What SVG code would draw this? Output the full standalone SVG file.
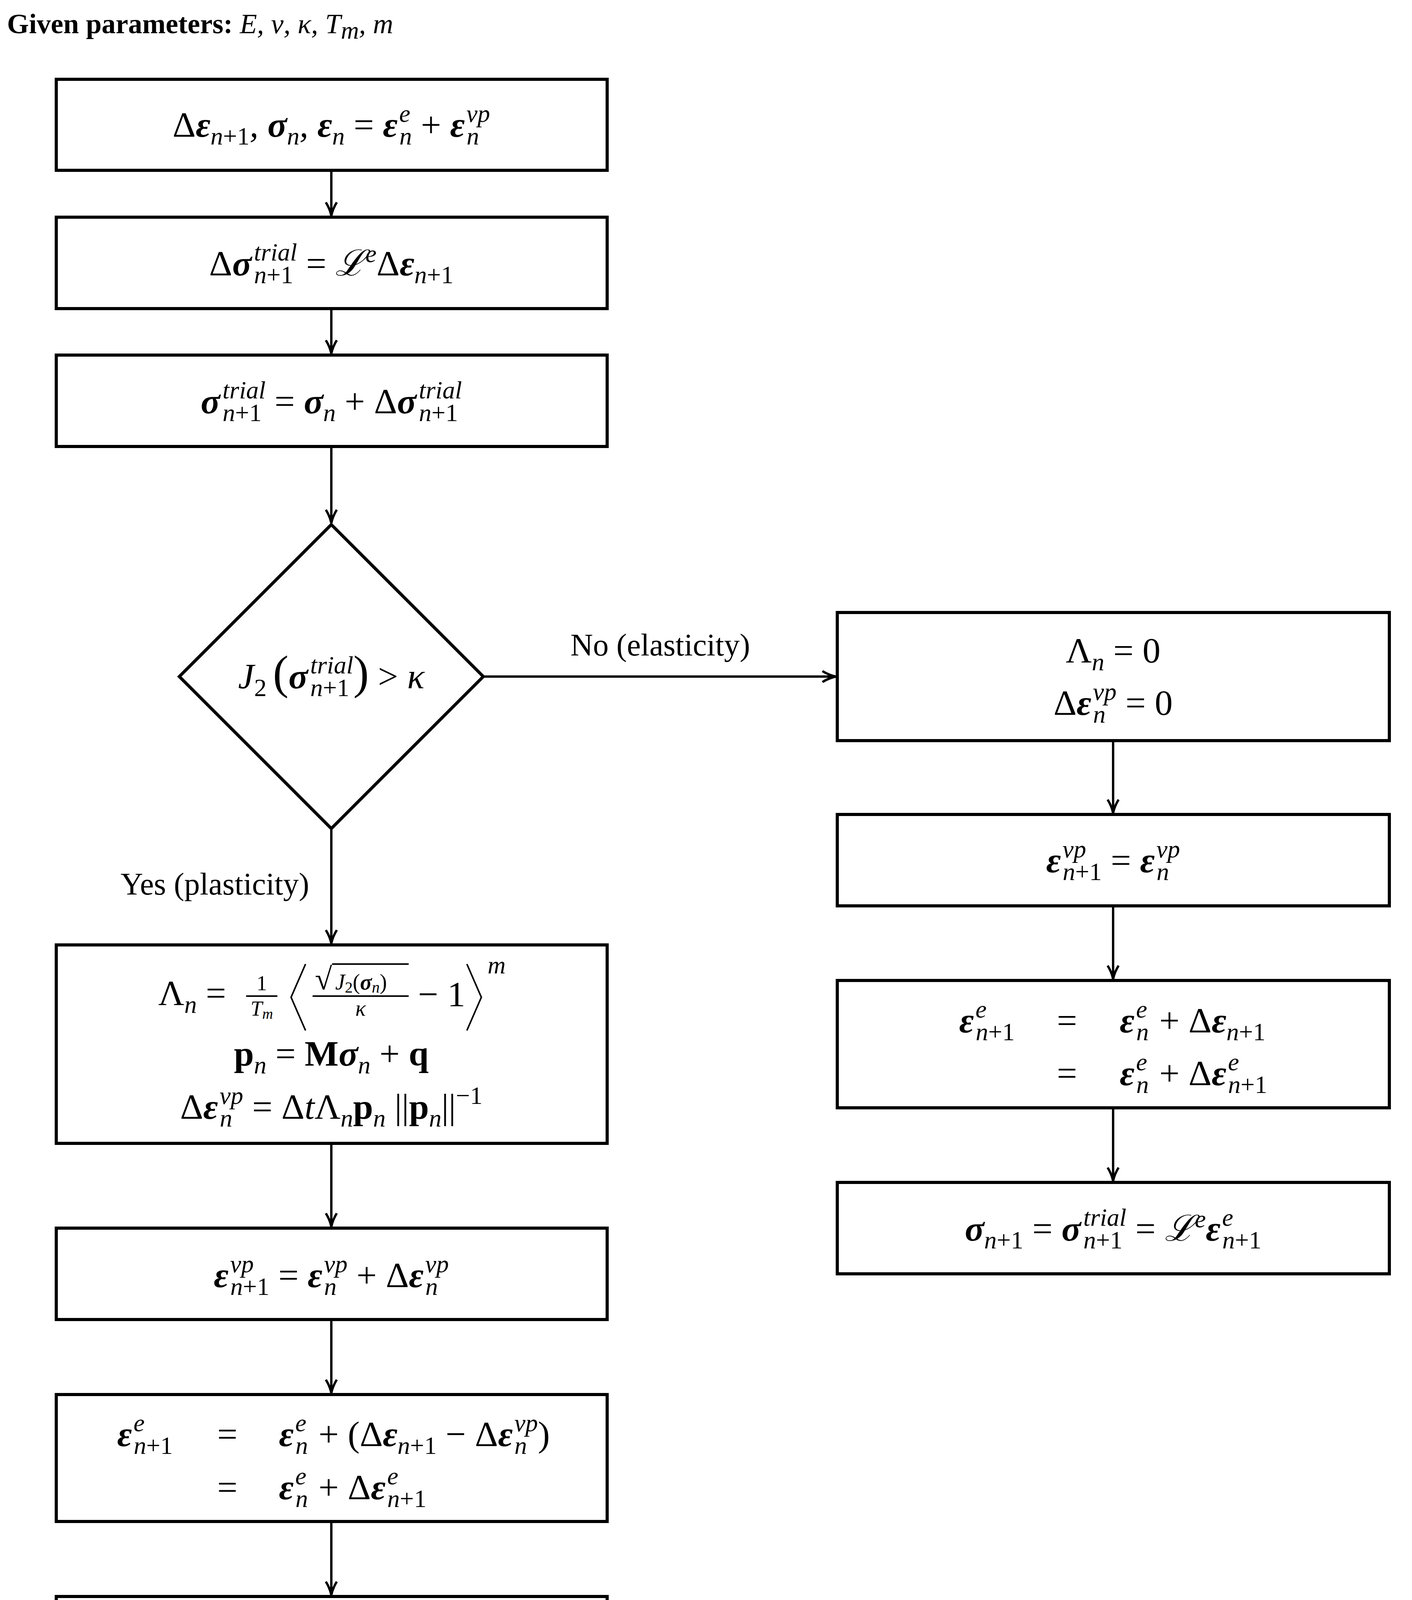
<svg xmlns="http://www.w3.org/2000/svg" width="3614" height="4377" viewBox="0 0 3614 4377">
<style>
.box{fill:#fff;stroke:#000;stroke-width:8}
.c{stroke:#000;stroke-width:6;fill:none}
.d{stroke:#000;stroke-width:4;fill:none}
text{font-family:"Liberation Serif",serif;fill:#000}
.m{font-size:92px;font-style:italic}
.r{font-style:normal}
.b{font-weight:bold}
.s{font-size:64px}
.t{font-size:72px}
</style>
<defs>
<marker id="ah" markerUnits="userSpaceOnUse" markerWidth="40" markerHeight="40" viewBox="0 0 40 40" refX="38" refY="20" orient="auto">
<path d="M4,6 Q20,16 38,20 Q20,24 4,34" fill="none" stroke="#000" stroke-width="6"/>
</marker>
</defs>
<rect width="3614" height="4377" fill="#fff"/>
<text x="18" y="85" class="t"><tspan class="b">Given parameters: </tspan><tspan font-style="italic">E, ν, κ, T<tspan class="s" font-size="52" dy="14">m</tspan><tspan dy="-14">, m</tspan></tspan></text>

<g id="connectors">
<line class="c" x1="848" y1="436" x2="848" y2="552" marker-end="url(#ah)"/>
<line class="c" x1="848" y1="790" x2="848" y2="905" marker-end="url(#ah)"/>
<line class="c" x1="848" y1="1143" x2="848" y2="1339" marker-end="url(#ah)"/>
<line class="c" x1="848" y1="2121" x2="848" y2="2415" marker-end="url(#ah)"/>
<line class="c" x1="848" y1="2927" x2="848" y2="3140" marker-end="url(#ah)"/>
<line class="c" x1="848" y1="3378" x2="848" y2="3566" marker-end="url(#ah)"/>
<line class="c" x1="848" y1="3895" x2="848" y2="4083" marker-end="url(#ah)"/>
<line class="c" x1="1237" y1="1732" x2="2139" y2="1732" marker-end="url(#ah)"/>
<line class="c" x1="2849" y1="1896" x2="2849" y2="2081" marker-end="url(#ah)"/>
<line class="c" x1="2849" y1="2319" x2="2849" y2="2506" marker-end="url(#ah)"/>
<line class="c" x1="2849" y1="2836" x2="2849" y2="3023" marker-end="url(#ah)"/>
<text x="1690" y="1678" text-anchor="middle" style="font-size:80px">No (elasticity)</text>
<text x="550" y="2290" text-anchor="middle" style="font-size:80px">Yes (plasticity)</text>
</g>

<g id="n1">
<rect class="box" x="144" y="203" width="1410" height="233"/>
<text x="848" y="350" text-anchor="middle" class="m"><tspan class="r">Δ</tspan><tspan class="b">ε</tspan><tspan class="s" dy="20">n<tspan class="r">+1</tspan></tspan><tspan dy="-20">, </tspan><tspan class="b">σ</tspan><tspan class="s" dy="20">n</tspan><tspan dy="-20">, </tspan><tspan class="b">ε</tspan><tspan class="s" dy="20">n</tspan><tspan class="r" dy="-20"> = </tspan><tspan class="b">ε</tspan><tspan class="s" dy="-38" dx="4">e</tspan><tspan class="s" dx="-28" dy="58">n</tspan><tspan class="r" dy="-20"> + </tspan><tspan class="b">ε</tspan><tspan class="s" dy="-38" dx="4">vp</tspan><tspan class="s" dx="-60" dy="58">n</tspan><tspan dy="-20" dx="28"> </tspan></text>
</g>

<g id="n2">
<rect class="box" x="144" y="556" width="1410" height="234"/>
<text x="848" y="705" text-anchor="middle" class="m"><tspan class="r">Δ</tspan><tspan class="b">σ</tspan><tspan class="s" dy="-38" dx="6">trial</tspan><tspan class="s" dx="-110" dy="58">n<tspan class="r">+1</tspan></tspan><tspan class="r" dy="-20" dx="10"> = </tspan><tspan font-family="DejaVu Serif">ℒ</tspan><tspan class="s" dy="-34">e</tspan><tspan class="r" dy="34">Δ</tspan><tspan class="b">ε</tspan><tspan class="s" dy="20">n<tspan class="r">+1</tspan></tspan></text>
</g>

<g id="n3">
<rect class="box" x="144" y="909" width="1410" height="234"/>
<text x="848" y="1058" text-anchor="middle" class="m"><tspan class="b">σ</tspan><tspan class="s" dy="-38" dx="6">trial</tspan><tspan class="s" dx="-110" dy="58">n<tspan class="r">+1</tspan></tspan><tspan class="r" dy="-20" dx="10"> = </tspan><tspan class="b">σ</tspan><tspan class="s" dy="20">n</tspan><tspan class="r" dy="-20"> + Δ</tspan><tspan class="b">σ</tspan><tspan class="s" dy="-38" dx="6">trial</tspan><tspan class="s" dx="-110" dy="58">n<tspan class="r">+1</tspan></tspan></text>
</g>

<g id="n4">
<polygon class="box" points="848,1343 1237,1732 848,2121 459,1732"/>
<text x="848" y="1762" text-anchor="middle" class="m">J<tspan class="s r" dy="20">2</tspan><tspan class="r" dy="-20" font-size="120" dx="16" font-weight="normal">(</tspan><tspan class="b">σ</tspan><tspan class="s" dy="-38" dx="6">trial</tspan><tspan class="s" dx="-110" dy="58">n<tspan class="r">+1</tspan></tspan><tspan class="r" dy="-20" dx="10" font-size="120">)</tspan><tspan class="r"> &gt; </tspan>κ</text>
</g>

<g id="n5">
<rect class="box" x="144" y="2419" width="1410" height="508"/>
<text x="405" y="2573" class="m"><tspan class="r">Λ</tspan><tspan class="s" dy="20">n</tspan><tspan class="r" dy="-20"> =</tspan></text>
<text x="670" y="2535" text-anchor="middle" class="r" font-size="54">1</text>
<line x1="630" y1="2550" x2="710" y2="2550" stroke="#000" stroke-width="4"/>
<text x="670" y="2600" text-anchor="middle" font-size="54" font-style="italic">T<tspan font-size="38" dy="8">m</tspan></text>
<polyline class="d" points="782,2468 745,2553 782,2638"/>
<text x="806" y="2533" font-size="80" font-family="DejaVu Serif">√</text>
<line x1="850" y1="2468" x2="1046" y2="2468" stroke="#000" stroke-width="4"/>
<text x="858" y="2533" font-size="56" font-style="italic">J<tspan font-size="40" class="r" dy="8">2</tspan><tspan class="r" dy="-8">(</tspan><tspan class="b">σ</tspan><tspan font-size="40" dy="8">n</tspan><tspan class="r" dy="-8">)</tspan></text>
<line x1="800" y1="2550" x2="1046" y2="2550" stroke="#000" stroke-width="4"/>
<text x="923" y="2600" text-anchor="middle" font-size="56" font-style="italic">κ</text>
<text x="1070" y="2576" class="m r">− 1</text>
<polyline class="d" points="1195,2468 1232,2553 1195,2638"/>
<text x="1248" y="2492" class="s" font-style="italic">m</text>
<text x="848" y="2728" text-anchor="middle" class="m"><tspan class="b r">p</tspan><tspan class="s" dy="20">n</tspan><tspan class="r" dy="-20"> = </tspan><tspan class="b r">M</tspan><tspan class="b">σ</tspan><tspan class="s" dy="20">n</tspan><tspan class="r" dy="-20"> + </tspan><tspan class="b r">q</tspan></text>
<text x="848" y="2864" text-anchor="middle" class="m"><tspan class="r">Δ</tspan><tspan class="b">ε</tspan><tspan class="s" dy="-38" dx="4">vp</tspan><tspan class="s" dx="-60" dy="58">n</tspan><tspan class="r" dy="-20" dx="28"> = Δ</tspan>t<tspan class="r">Λ</tspan><tspan class="s" dy="20">n</tspan><tspan class="b r" dy="-20">p</tspan><tspan class="s" dy="20">n</tspan><tspan class="r" dy="-20"> ||</tspan><tspan class="b r">p</tspan><tspan class="s" dy="20">n</tspan><tspan class="r" dy="-20">||</tspan><tspan class="s r" dy="-38">−1</tspan></text>
</g>

<g id="n6">
<rect class="box" x="144" y="3144" width="1410" height="234"/>
<text x="848" y="3295" text-anchor="middle" class="m"><tspan class="b">ε</tspan><tspan class="s" dy="-38" dx="4">vp</tspan><tspan class="s" dx="-60" dy="58">n<tspan class="r">+1</tspan></tspan><tspan class="r" dy="-20"> = </tspan><tspan class="b">ε</tspan><tspan class="s" dy="-38" dx="4">vp</tspan><tspan class="s" dx="-60" dy="58">n</tspan><tspan class="r" dy="-20" dx="28"> + Δ</tspan><tspan class="b">ε</tspan><tspan class="s" dy="-38" dx="4">vp</tspan><tspan class="s" dx="-60" dy="58">n</tspan><tspan dy="-20" dx="28"> </tspan></text>
</g>

<g id="n7">
<rect class="box" x="144" y="3570" width="1410" height="325"/>
<text x="300" y="3702" class="m"><tspan class="b">ε</tspan><tspan class="s" dy="-38" dx="4">e</tspan><tspan class="s" dx="-28" dy="58">n<tspan class="r">+1</tspan></tspan></text>
<text x="556" y="3702" class="m r">=</text>
<text x="714" y="3702" class="m"><tspan class="b">ε</tspan><tspan class="s" dy="-38" dx="4">e</tspan><tspan class="s" dx="-28" dy="58">n</tspan><tspan class="r" dy="-20" dx="4"> + (Δ</tspan><tspan class="b">ε</tspan><tspan class="s" dy="20">n<tspan class="r">+1</tspan></tspan><tspan class="r" dy="-20"> − Δ</tspan><tspan class="b">ε</tspan><tspan class="s" dy="-38" dx="4">vp</tspan><tspan class="s" dx="-60" dy="58">n</tspan><tspan class="r" dy="-20" dx="28">)</tspan></text>
<text x="556" y="3838" class="m r">=</text>
<text x="714" y="3838" class="m"><tspan class="b">ε</tspan><tspan class="s" dy="-38" dx="4">e</tspan><tspan class="s" dx="-28" dy="58">n</tspan><tspan class="r" dy="-20" dx="4"> + Δ</tspan><tspan class="b">ε</tspan><tspan class="s" dy="-38" dx="4">e</tspan><tspan class="s" dx="-28" dy="58">n<tspan class="r">+1</tspan></tspan></text>
</g>

<g id="n8">
<rect class="box" x="144" y="4087" width="1410" height="233"/>
<text x="848" y="4236" text-anchor="middle" class="m"><tspan class="b">σ</tspan><tspan class="s" dy="20">n<tspan class="r">+1</tspan></tspan><tspan class="r" dy="-20"> = </tspan><tspan font-family="DejaVu Serif">ℒ</tspan><tspan class="s" dy="-34">e</tspan><tspan class="b" dy="34">ε</tspan><tspan class="s" dy="-38" dx="4">e</tspan><tspan class="s" dx="-28" dy="58">n<tspan class="r">+1</tspan></tspan></text>
</g>

<g id="r1">
<rect class="box" x="2143" y="1568" width="1413" height="328"/>
<text x="2849" y="1696" text-anchor="middle" class="m"><tspan class="r">Λ</tspan><tspan class="s" dy="20">n</tspan><tspan class="r" dy="-20"> = 0</tspan></text>
<text x="2849" y="1830" text-anchor="middle" class="m"><tspan class="r">Δ</tspan><tspan class="b">ε</tspan><tspan class="s" dy="-38" dx="4">vp</tspan><tspan class="s" dx="-60" dy="58">n</tspan><tspan class="r" dy="-20" dx="28"> = 0</tspan></text>
</g>

<g id="r2">
<rect class="box" x="2143" y="2085" width="1413" height="234"/>
<text x="2849" y="2233" text-anchor="middle" class="m"><tspan class="b">ε</tspan><tspan class="s" dy="-38" dx="4">vp</tspan><tspan class="s" dx="-60" dy="58">n<tspan class="r">+1</tspan></tspan><tspan class="r" dy="-20"> = </tspan><tspan class="b">ε</tspan><tspan class="s" dy="-38" dx="4">vp</tspan><tspan class="s" dx="-60" dy="58">n</tspan><tspan dy="-20" dx="28"> </tspan></text>
</g>

<g id="r3">
<rect class="box" x="2143" y="2510" width="1413" height="326"/>
<text x="2455" y="2643" class="m"><tspan class="b">ε</tspan><tspan class="s" dy="-38" dx="4">e</tspan><tspan class="s" dx="-28" dy="58">n<tspan class="r">+1</tspan></tspan></text>
<text x="2705" y="2643" class="m r">=</text>
<text x="2866" y="2643" class="m"><tspan class="b">ε</tspan><tspan class="s" dy="-38" dx="4">e</tspan><tspan class="s" dx="-28" dy="58">n</tspan><tspan class="r" dy="-20" dx="4"> + Δ</tspan><tspan class="b">ε</tspan><tspan class="s" dy="20">n<tspan class="r">+1</tspan></tspan></text>
<text x="2705" y="2778" class="m r">=</text>
<text x="2866" y="2778" class="m"><tspan class="b">ε</tspan><tspan class="s" dy="-38" dx="4">e</tspan><tspan class="s" dx="-28" dy="58">n</tspan><tspan class="r" dy="-20" dx="4"> + Δ</tspan><tspan class="b">ε</tspan><tspan class="s" dy="-38" dx="4">e</tspan><tspan class="s" dx="-28" dy="58">n<tspan class="r">+1</tspan></tspan></text>
</g>

<g id="r4">
<rect class="box" x="2143" y="3027" width="1413" height="234"/>
<text x="2849" y="3176" text-anchor="middle" class="m"><tspan class="b">σ</tspan><tspan class="s" dy="20">n<tspan class="r">+1</tspan></tspan><tspan class="r" dy="-20"> = </tspan><tspan class="b">σ</tspan><tspan class="s" dy="-38" dx="6">trial</tspan><tspan class="s" dx="-110" dy="58">n<tspan class="r">+1</tspan></tspan><tspan class="r" dy="-20" dx="10"> = </tspan><tspan font-family="DejaVu Serif">ℒ</tspan><tspan class="s" dy="-34">e</tspan><tspan class="b" dy="34">ε</tspan><tspan class="s" dy="-38" dx="4">e</tspan><tspan class="s" dx="-28" dy="58">n<tspan class="r">+1</tspan></tspan></text>
</g>
</svg>
